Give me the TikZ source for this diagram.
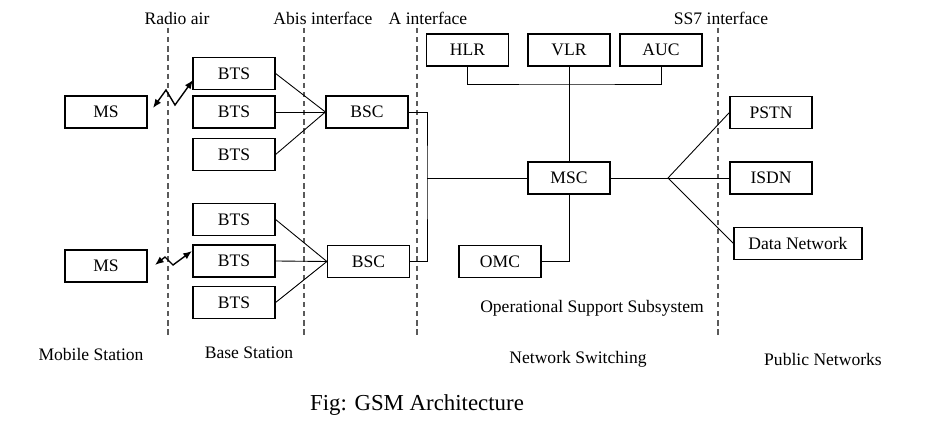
\documentclass[tikz,border=0pt]{standalone}
\usepackage{fontspec}
\setmainfont{Liberation Serif}
\usetikzlibrary{arrows.meta}
\usetikzlibrary{math}
\definecolor{dashgray}{RGB}{90,90,90}

\tikzset{
  blk/.style={draw, line width=0.7pt, minimum width=1.64cm, minimum height=0.64cm, inner sep=0pt, font=\fontsize{10}{12}\selectfont},
  lbl/.style={inner sep=0pt, font=\fontsize{10}{12}\selectfont},
  iface/.style={dashgray, line width=0.6pt, dash pattern=on 3pt off 2.2pt},
  wire/.style={line width=0.5pt},
  radio/.style={{Latex[length=5pt,width=4pt]}-{Latex[length=5pt,width=4pt]}, line width=0.8pt}
}

\begin{document}
\begin{tikzpicture}[x=0.02cm, y=-0.02cm]
\tikzmath{
\ytop=28;
\ybot=335;
}
\useasboundingbox (0,0) rectangle (937,432);

\foreach \xi in {168,304,417,718}
  \draw[iface] (\xi,\ytop) -- (\xi,\ybot);

\node[lbl] (radio) at (177,18) {Radio air};
\node[lbl] (abis) at (323,18) {Abis interface};
\node[lbl] (aint) at (428,18) {A interface};
\node[lbl] (ssint) at (721,18) {SS7 interface};

\node[blk] (ms1) at (106,112) {MS};
\node[blk] (ms2) at (106,266) {MS};

\node[blk] (bts1) at (234,73.5) {BTS};
\node[blk] (bts2) at (234,112) {BTS};
\node[blk] (bts3) at (234,154.5) {BTS};
\node[blk] (bts4) at (234,219.5) {BTS};
\node[blk] (bts5) at (234,261) {BTS};
\node[blk] (bts6) at (234,302.5) {BTS};

\node[blk] (bsc1) at (367,112) {BSC};
\node[blk] (bsc2) at (368.5,261.5) {BSC};

\node[blk] (hlr) at (467.5,50) {HLR};
\node[blk] (vlr) at (569,50) {VLR};
\node[blk] (auc) at (661,50) {AUC};
\node[blk] (msc) at (569,178) {MSC};
\node[blk] (omc) at (500,261.5) {OMC};

\node[blk] (pstn) at (771,112.5) {PSTN};
\node[blk] (isdn) at (771,178) {ISDN};
\node[blk, minimum width=2.56cm] (data) at (798,243.5) {Data Network};

\coordinate (r1a) at (153,108);
\coordinate (r1b) at (193,80);
\coordinate (r2a) at (155,265);
\coordinate (r2b) at (192,251);
\draw[radio] (r1a) -- (166,90) -- (175,105) -- (r1b);
\draw[radio] (r2a) -- (165,257) -- (173,265) -- (r2b);

\foreach \b in {bts1,bts2,bts3}
  \draw[wire] (\b.east) -- (bsc1.west);
\foreach \b in {bts4,bts5,bts6}
  \draw[wire] (\b.east) -- (bsc2.west);

\coordinate (aj) at (427,178);
\coordinate (bus) at (569,84);
\coordinate (pj) at (668,178);

\draw[wire] (bsc1.east) -| (aj) |- (bsc2.east);
\draw[wire] (aj) -- (msc.west);
\draw[wire] (hlr.south) |- (bus) -| (auc.south);
\draw[wire] (vlr.south) -- (msc.north);
\draw[wire] (omc.east) -| (msc.south);
\draw[wire] (msc.east) -- (pj);
\draw[wire] (pj) -- (pstn.west);
\draw[wire] (pj) -- (isdn.west);
\draw[wire] (pj) -- (data.west);

\node[lbl] (oss) at (592,308) {Operational Support Subsystem};
\node[lbl] (mobst) at (91,354) {Mobile Station};
\node[lbl] (basest) at (249,353) {Base Station};
\node[lbl] (netsw) at (578,359) {Network Switching};
\node[lbl] (pubnet) at (823,359) {Public Networks};

\node[inner sep=0pt, font=\fontsize{13}{15}\selectfont] (caption) at (417,405) {Fig: GSM Architecture};
\end{tikzpicture}
\end{document}
